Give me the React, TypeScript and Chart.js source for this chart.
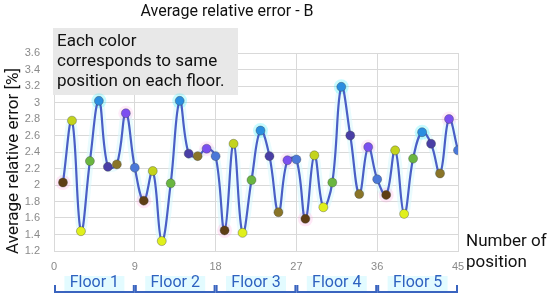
import React, { useEffect, useRef } from "react";
import { Chart, registerables } from "chart.js";
Chart.register(...registerables);

const positions = [
  1, 2, 3, 4, 5, 6, 7, 8, 9, 10, 11, 12, 13, 14, 15, 16, 17, 18, 19, 20, 21, 22, 23,
  24, 25, 26, 27, 28, 29, 30, 31, 32, 33, 34, 35, 36, 37, 38, 39, 40, 41, 42, 43, 44, 45,
];
const errors = [
  2.03, 2.78, 1.44, 2.29, 3.02, 2.22, 2.25, 2.87, 2.21,
  1.81, 2.17, 1.32, 2.02, 3.02, 2.38, 2.35, 2.44, 2.35,
  1.45, 2.5, 1.42, 2.06, 2.66, 2.35, 1.67, 2.3, 2.31,
  1.59, 2.36, 1.73, 2.03, 3.19, 2.6, 1.89, 2.46, 2.07,
  1.88, 2.42, 1.65, 2.32, 2.64, 2.5, 2.14, 2.8, 2.42,
];
const xTicks = [0, 9, 18, 27, 36, 45];
const yTicks = [1.2, 1.4, 1.6, 1.8, 2, 2.2, 2.4, 2.6, 2.8, 3, 3.2, 3.4, 3.6];
const floorLabels = ["Floor 1", "Floor 2", "Floor 3", "Floor 4", "Floor 5"];
const floorBounds = [0, 9, 18, 27, 36, 45];
const positionColors = [
  "#5e3e14", "#c3d31c", "#e0f01c", "#6ab640", "#2a8ee0",
  "#4a3fa6", "#8a7528", "#7c4ff0", "#4a78d8",
];
const haloColors = [
  "rgba(255,150,220,0.22)", "rgba(0,0,0,0)", "rgba(0,0,0,0)", "rgba(0,0,0,0)",
  "rgba(0,235,255,0.22)", "rgba(0,0,0,0)", "rgba(0,0,0,0)", "rgba(255,150,230,0.18)", "rgba(0,0,0,0)",
];

const FONT = "Roboto, 'Noto Sans', sans-serif";

const annotations = {
  id: "annotations",
  beforeDatasetsDraw(chart: any) {
    const ctx = chart.ctx;
    ctx.save();
    ctx.fillStyle = "#e8e8e8";
    ctx.fillRect(53, 28, 185, 67);
    ctx.fillStyle = "#111";
    ctx.font = `17px ${FONT}`;
    ctx.textBaseline = "alphabetic";
    ctx.textAlign = "left";
    ctx.fillText("Each color", 57, 46);
    ctx.fillText("corresponds to same", 57, 66);
    ctx.fillText("position on each floor.", 57, 86);
    ctx.restore();
  },
  afterDraw(chart: any) {
    const ctx = chart.ctx;
    const xs = chart.scales.x;
    ctx.save();
    ctx.fillStyle = "#111";
    ctx.font = `16px ${FONT}`;
    ctx.textAlign = "center";
    ctx.textBaseline = "middle";
    ctx.fillText("Average relative error - B", 227, 12);
    ctx.save();
    ctx.translate(14, 161);
    ctx.rotate(-Math.PI / 2);
    ctx.font = `17px ${FONT}`;
    ctx.fillText("Average relative error [%]", 0, 0);
    ctx.restore();
    ctx.textAlign = "left";
    ctx.font = `17px ${FONT}`;
    ctx.fillText("Number of", 466, 242);
    ctx.fillText("position", 466, 263);
    for (let i = 0; i < floorLabels.length; i++) {
      const x0 = xs.getPixelForValue(floorBounds[i]) + 1;
      const x1 = xs.getPixelForValue(floorBounds[i + 1]) - 1;
      const cx = (x0 + x1) / 2;
      ctx.fillStyle = "rgba(218,250,255,0.75)";
      ctx.fillRect(cx - 30, 276, 60, 15);
      ctx.fillStyle = "#2f62c0";
      ctx.font = `16px ${FONT}`;
      ctx.textAlign = "center";
      ctx.fillText(floorLabels[i], cx, 283);
      ctx.strokeStyle = "#3a64bf";
      ctx.lineWidth = 2;
      ctx.beginPath();
      ctx.moveTo(x0, 285);
      ctx.lineTo(x0, 292);
      ctx.lineTo(x1, 292);
      ctx.lineTo(x1, 285);
      ctx.stroke();
    }
    ctx.restore();
  },
};

export default function App() {
  const ref = useRef<HTMLCanvasElement>(null);
  useEffect(() => {
    document.body.style.margin = "0";
    const data = positions.map((p, i) => ({ x: p, y: errors[i] }));
    const ptColors = positions.map((p) => positionColors[(p - 1) % 9]);
    const halo = positions.map((p) => haloColors[(p - 1) % 9]);
    const chart = new Chart(ref.current!, {
      type: "line",
      data: {
        datasets: [
          {
            data,
            borderColor: "#4a5fc6",
            borderWidth: 2.2,
            tension: 0.4,
            pointRadius: 4.5,
            pointBackgroundColor: ptColors,
            pointBorderColor: "rgba(60,60,60,0.35)",
            pointBorderWidth: 1,
            order: 1,
          },
          {
            data,
            borderColor: "rgba(215,248,252,0.55)",
            borderWidth: 8,
            tension: 0.4,
            pointRadius: 7.5,
            pointBackgroundColor: halo,
            pointBorderWidth: 0,
            order: 2,
          },
        ],
      },
      options: {
        animation: false,
        responsive: true,
        maintainAspectRatio: false,
        layout: { padding: { top: 53, right: 92, left: 0, bottom: 0 } },
        plugins: { legend: { display: false }, tooltip: { enabled: false }, title: { display: false } },
        scales: {
          x: {
            type: "linear",
            min: 0,
            max: 45,
            afterBuildTicks: (s: any) => {
              s.ticks = xTicks.map((v) => ({ value: v }));
            },
            afterFit: (s: any) => {
              s.height = 49;
            },
            grid: { color: "#d9d9d9", drawTicks: false },
            border: { color: "#d9d9d9" },
            ticks: { color: "#8a8a8a", font: { size: 11 }, padding: 9, maxRotation: 0 },
          },
          y: {
            min: 1.2,
            max: 3.6,
            afterBuildTicks: (s: any) => {
              s.ticks = yTicks.map((v) => ({ value: v }));
            },
            afterFit: (s: any) => {
              s.width = 54;
            },
            grid: { color: "#d9d9d9", drawTicks: false },
            border: { color: "#d9d9d9" },
            ticks: {
              color: "#8a8a8a",
              font: { size: 11 },
              padding: 14,
              callback: (v: any) => String(Number(Number(v).toFixed(1))),
            },
          },
        },
      },
      plugins: [annotations],
    });
    return () => chart.destroy();
  }, []);
  return (
    <div style={{ width: 550, height: 300, position: "relative" }}>
      <canvas ref={ref} />
    </div>
  );
}
